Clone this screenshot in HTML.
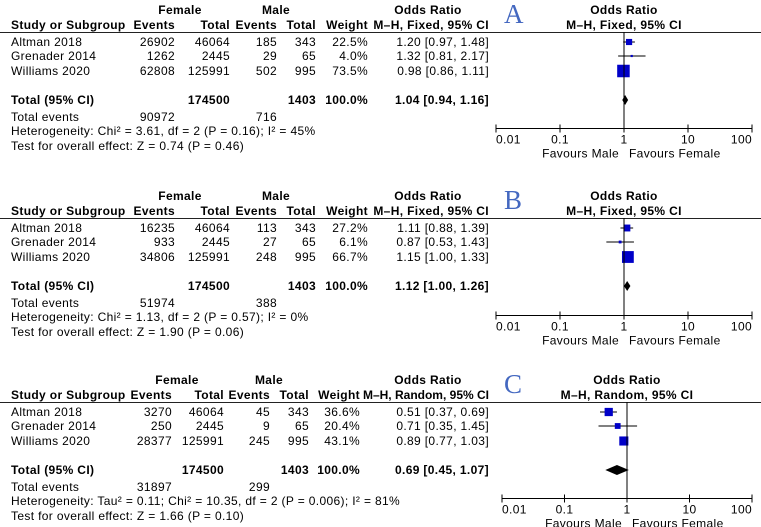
<!DOCTYPE html>
<html><head><meta charset="utf-8">
<style>
html,body{margin:0;padding:0;background:#fff;}
svg{display:block;font-family:"Liberation Sans","DejaVu Sans",sans-serif;font-size:12px;letter-spacing:0.35px;}
.b{font-weight:bold;}
</style></head>
<body>
<svg id="fig" width="761" height="527" viewBox="0 0 761 527" xmlns="http://www.w3.org/2000/svg"></svg>
<script>
// ---- Panel data (top-level arrays) ----
const studies = ["Altman 2018", "Grenader 2014", "Williams 2020"];
const tickValues = [0.01, 0.1, 1, 10, 100];
const tickLabels = ["0.01", "0.1", "1", "10", "100"];

const aFemaleEvents = ["26902", "1262", "62808"];
const aFemaleTotal = ["46064", "2445", "125991"];
const aMaleEvents = ["185", "29", "502"];
const aMaleTotal = ["343", "65", "995"];
const aWeight = [22.5, 4.0, 73.5];
const aOR = [1.20, 1.32, 0.98];
const aLow = [0.97, 0.81, 0.86];
const aHigh = [1.48, 2.17, 1.11];
const aTotal = [1.04, 0.94, 1.16];
const aTotalsText = ["174500", "1403", "90972", "716"];

const bFemaleEvents = ["16235", "933", "34806"];
const bFemaleTotal = ["46064", "2445", "125991"];
const bMaleEvents = ["113", "27", "248"];
const bMaleTotal = ["343", "65", "995"];
const bWeight = [27.2, 6.1, 66.7];
const bOR = [1.11, 0.87, 1.15];
const bLow = [0.88, 0.53, 1.00];
const bHigh = [1.39, 1.43, 1.33];
const bTotal = [1.12, 1.00, 1.26];
const bTotalsText = ["174500", "1403", "51974", "388"];

const cFemaleEvents = ["3270", "250", "28377"];
const cFemaleTotal = ["46064", "2445", "125991"];
const cMaleEvents = ["45", "9", "245"];
const cMaleTotal = ["343", "65", "995"];
const cWeight = [36.6, 20.4, 43.1];
const cOR = [0.51, 0.71, 0.89];
const cLow = [0.37, 0.35, 0.77];
const cHigh = [0.69, 1.45, 1.03];
const cTotal = [0.69, 0.45, 1.07];
const cTotalsText = ["174500", "1403", "31897", "299"];

const NS = "http://www.w3.org/2000/svg";
const svg = document.getElementById("fig");
function mk(tag, attrs, parent, txt) {
  const e = document.createElementNS(NS, tag);
  for (const k in attrs) e.setAttribute(k, attrs[k]);
  if (txt !== undefined) e.textContent = txt;
  (parent || svg).appendChild(e);
  return e;
}
function f2(v){return v.toFixed(2);}

function panel(cfg) {
  const g = mk("g", {});
  
  
  const dy = cfg.dy;
  const T = (x, y, s, anchor, cls, name) => {
    const t = mk("text", {x: x, y: y + dy, "text-anchor": anchor || "start", "class": cls || ""}, g, s);
    
    
    return t;
  };
  const c = cfg.cols;
  T(c.fe + 5, 14, "Female", "middle", "b", "female-header");
  T(c.mt - 40, 14, "Male", "middle", "b", "male-header");
  T(428, 14, "Odds Ratio", "middle", "b", "odds-ratio-header");
  T(11, 29, "Study or Subgroup", "start", "b", "study-header");
  T(c.fe, 29, "Events", "end", "b", "female-events-header");
  T(c.ft, 29, "Total", "end", "b", "female-total-header");
  T(c.me, 29, "Events", "end", "b", "male-events-header");
  T(c.mt, 29, "Total", "end", "b", "male-total-header");
  T(c.w, 29, "Weight", "end", "b", "weight-header");
  const mh = T(489, 29, cfg.method, "end", "b", "method-header");
  if (cfg.letter === "C") mh.setAttribute("letter-spacing", "0");
  T(cfg.one, 14, "Odds Ratio", "middle", "b", "plot-odds-ratio-header");
  T(cfg.one, 29, cfg.method, "middle", "b", "plot-method-header");
  const L = mk("text", {x: 504, y: 23 + dy, fill: "#4468c0", "font-family": "'Liberation Serif',serif", "font-size": "27", "letter-spacing": "0"}, g, cfg.letter);
  
  
  const hl = mk("line", {x1: 0, x2: 761, y1: 32.5 + dy, y2: 32.5 + dy, stroke: "#222", "stroke-width": 1}, g);
  
  

  const rowY = [42, 56, 71];
  const xs = v => cfg.one + Math.log10(v) * cfg.dec;
  studies.forEach((s, i) => {
    const y = rowY[i] + 4;
    T(11, y, s, "start", "", "study-name");
    T(c.fe, y, cfg.fe[i], "end", "", "female-events");
    T(c.ft, y, cfg.ft[i], "end", "", "female-total");
    T(c.me, y, cfg.me[i], "end", "", "male-events");
    T(c.mt, y, cfg.mt[i], "end", "", "male-total");
    T(c.w, y, cfg.w[i].toFixed(1) + "%", "end", "", "weight-value");
    T(489, y, f2(cfg.or[i]) + " [" + f2(cfg.lo[i]) + ", " + f2(cfg.hi[i]) + "]", "end", "", "odds-ratio-ci");
    const cy = rowY[i] + dy;
    const ci = mk("line", {x1: xs(cfg.lo[i]), x2: xs(cfg.hi[i]), y1: cy, y2: cy, stroke: "#000", "stroke-width": 1}, g);
    
    
    const sz = Math.max(2, Math.pow(cfg.w[i], 0.6) * 0.95);
    const sq = mk("rect", {x: xs(cfg.or[i]) - sz / 2, y: cy - sz / 2, width: sz, height: sz, fill: "#0000c8"}, g);
    
    
  });
  T(11, 104, "Total (95% CI)", "start", "b", "total-label");
  T(c.ft, 104, cfg.tot[0], "end", "b", "female-total-sum");
  T(c.mt, 104, cfg.tot[1], "end", "b", "male-total-sum");
  T(c.w, 104, "100.0%", "end", "b", "weight-total");
  T(489, 104, f2(cfg.t[0]) + " [" + f2(cfg.t[1]) + ", " + f2(cfg.t[2]) + "]", "end", "b", "total-odds-ratio");
  T(11, 121, "Total events", "start", "", "total-events-label");
  T(c.fe, 121, cfg.tot[2], "end", "", "female-total-events");
  T(c.me, 121, cfg.tot[3], "end", "", "male-total-events");
  T(11, 135, cfg.het, "start", "", "heterogeneity-text");
  T(11, 150, cfg.test, "start", "", "overall-effect-text");
  const dcy = 100 + dy;
  const dm = mk("polygon", {points: [xs(cfg.t[1]) + "," + dcy, xs(cfg.t[0]) + "," + (dcy - 5), xs(cfg.t[2]) + "," + dcy, xs(cfg.t[0]) + "," + (dcy + 5)].join(" "), fill: "#000"}, g);
  
  
  const ay = 128.5 + cfg.ady;
  const vl = mk("line", {x1: cfg.one, x2: cfg.one, y1: 32 + dy, y2: ay, stroke: "#000", "stroke-width": 1}, g);
  
  
  const ax = mk("line", {x1: xs(0.01), x2: xs(100), y1: ay, y2: ay, stroke: "#000", "stroke-width": 1}, g);
  
  
  tickValues.forEach((v, i) => {
    const tk = mk("line", {x1: xs(v), x2: xs(v), y1: ay - 4, y2: ay + 4, stroke: "#000"}, g);
    
    
    const anchor = i === 0 ? "start" : (i === tickValues.length - 1 ? "end" : "middle");
    const tl = mk("text", {x: xs(v), y: ay + 15, "text-anchor": anchor}, g, tickLabels[i]);
    
    
  });
  const fm = mk("text", {x: cfg.one - 5, y: ay + 29, "text-anchor": "end"}, g, "Favours Male");
  
  
  const ff = mk("text", {x: cfg.one + 5, y: ay + 29, "text-anchor": "start"}, g, "Favours Female");
  
  
}

panel({letter: "A", dy: 0, ady: 0, one: 624, dec: 64, method: "M\u2013H, Fixed, 95% CI",
  cols: {fe: 175, ft: 230, me: 277, mt: 316, w: 368},
  fe: aFemaleEvents, ft: aFemaleTotal, me: aMaleEvents, mt: aMaleTotal, w: aWeight,
  or: aOR, lo: aLow, hi: aHigh, t: aTotal, tot: aTotalsText,
  het: "Heterogeneity: Chi\u00b2 = 3.61, df = 2 (P = 0.16); I\u00b2 = 45%",
  test: "Test for overall effect: Z = 0.74 (P = 0.46)"});
panel({letter: "B", dy: 186, ady: 187, one: 624, dec: 64, method: "M\u2013H, Fixed, 95% CI",
  cols: {fe: 175, ft: 230, me: 277, mt: 316, w: 368},
  fe: bFemaleEvents, ft: bFemaleTotal, me: bMaleEvents, mt: bMaleTotal, w: bWeight,
  or: bOR, lo: bLow, hi: bHigh, t: bTotal, tot: bTotalsText,
  het: "Heterogeneity: Chi\u00b2 = 1.13, df = 2 (P = 0.57); I\u00b2 = 0%",
  test: "Test for overall effect: Z = 1.90 (P = 0.06)"});
panel({letter: "C", dy: 370, ady: 370, one: 627, dec: 62.5, method: "M\u2013H, Random, 95% CI",
  cols: {fe: 172, ft: 224, me: 270, mt: 309, w: 360},
  fe: cFemaleEvents, ft: cFemaleTotal, me: cMaleEvents, mt: cMaleTotal, w: cWeight,
  or: cOR, lo: cLow, hi: cHigh, t: cTotal, tot: cTotalsText,
  het: "Heterogeneity: Tau\u00b2 = 0.11; Chi\u00b2 = 10.35, df = 2 (P = 0.006); I\u00b2 = 81%",
  test: "Test for overall effect: Z = 1.66 (P = 0.10)"});
</script>
</body></html>
